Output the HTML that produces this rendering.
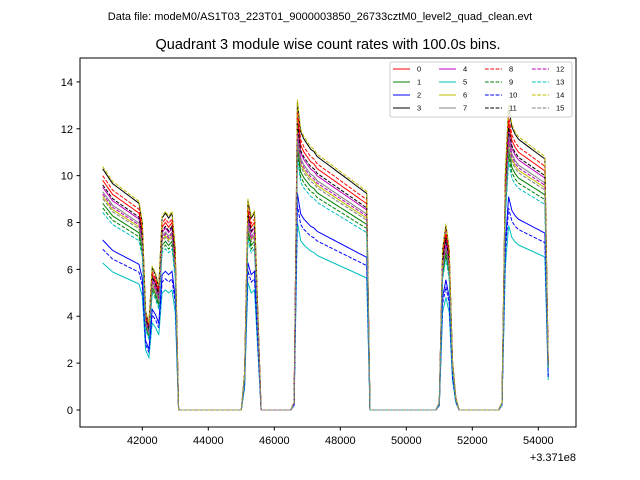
<!DOCTYPE html>
<html><head><meta charset="utf-8"><style>
body{margin:0;background:#fff;}
svg{display:block;font-family:"Liberation Sans","DejaVu Sans",sans-serif;}
</style></head><body>
<svg id="chart" width="640" height="480">
<text x="320" y="20" text-anchor="middle" font-size="11">Data file: modeM0/AS1T03_223T01_9000003850_26733cztM0_level2_quad_clean.evt</text>
<text x="328" y="49" text-anchor="middle" font-size="14.5">Quadrant 3 module wise count rates with 100.0s bins.</text>
<g id="plot"></g>
<g id="axes"></g>
<g id="legend"></g>
</svg>
<script>
const tStart = 40800, tStep = 100;
const baseProfile = [
9.8,9.6,9.4,9.2,9.1,9.0,8.9,8.8,8.7,8.6,8.5,8.4,
7.6,4.0,3.5,5.8,5.5,5.0,7.8,8.0,7.8,8.0,6.5,0,
0,0,0,0,0,0,0,0,0,0,0,0,0,0,0,0,0,0,
0,1.5,8.5,7.8,8.0,4.0,0,
0,0,0,0,0,0,0,0,0,0.3,
12.5,11.3,11.0,10.8,10.6,10.5,10.3,10.2,10.1,10.0,9.9,9.8,9.7,9.6,9.5,9.4,9.3,9.2,9.1,9.0,8.9,8.8,0,
0,0,0,0,0,0,0,0,0,0,0,0,0,0,0,0,0,0,0,0,
0.3,6.5,7.5,6.5,2.0,0.5,0,
0,0,0,0,0,0,0,0,0,0,0,0,
0.3,9.5,12.3,11.5,11.2,11.0,10.9,10.8,10.7,10.6,10.5,10.4,10.3,10.2,2.0
];
const moduleScale = [1.0,0.9,0.74,1.05,0.97,0.64,0.93,0.95,1.02,0.88,0.7,0.98,0.94,0.86,1.06,0.92];
const moduleNames = ["0","1","2","3","4","5","6","7","8","9","10","11","12","13","14","15"];
const colors = ["#ff0000","#008000","#0000ff","#000000","#bf00bf","#00bfbf","#bfbf00","#808080"];
const xTicks = [42000,44000,46000,48000,50000,52000,54000];
const yTicks = [0,2,4,6,8,10,12,14];

const L=80,R=576,T=58,B=427;
const xMin=40112,xMax=55142,yMin=-0.726,yMax=15.02;
const xs=v=>L+(v-xMin)/(xMax-xMin)*(R-L);
const ys=v=>B-(v-yMin)/(yMax-yMin)*(B-T);
const NS="http://www.w3.org/2000/svg";
function mk(tag,attrs,parent){const e=document.createElementNS(NS,tag);for(const k in attrs)e.setAttribute(k,attrs[k]);parent.appendChild(e);return e;}
const plot=document.getElementById('plot'),axes=document.getElementById('axes'),legend=document.getElementById('legend');

moduleScale.forEach((s,m)=>{
  const pts=baseProfile.map((v,i)=>xs(tStart+i*tStep).toFixed(1)+','+ys(v*s).toFixed(1)).join(' ');
  const pl=mk('polyline',{points:pts,fill:'none',stroke:colors[m%8],'stroke-width':1,'stroke-dasharray':m>=8?'3.7,1.6':'none'},plot);
  
  
});

const frame=mk('rect',{x:L,y:T,width:R-L,height:B-T,fill:'none',stroke:'#000','stroke-width':1},axes);


xTicks.forEach(v=>{
  const x=xs(v);
  mk('line',{x1:x,x2:x,y1:B,y2:B+3.5,stroke:'#000'},axes);
  const t=mk('text',{x:x,y:B+17,'text-anchor':'middle','font-size':11},axes);
  t.textContent=v;
  
  
});
yTicks.forEach(v=>{
  const y=ys(v);
  mk('line',{x1:L-3.5,x2:L,y1:y,y2:y,stroke:'#000'},axes);
  const t=mk('text',{x:L-7,y:y+4,'text-anchor':'end','font-size':11},axes);
  t.textContent=v;
  
  
});
const off=mk('text',{x:576,y:461,'text-anchor':'end','font-size':11},axes);
off.textContent='+3.371e8';



const lb=mk('rect',{x:390,y:62,width:182,height:55,fill:'#fff','fill-opacity':0.8,stroke:'#ccc',rx:2},legend);


const colX=[393,439,485,532],rowY=[69,82,95,108];
moduleNames.forEach((n,m)=>{
  const c=Math.floor(m/4),r=m%4;
  const g=mk('g',{},legend);
  
  
  mk('line',{x1:colX[c],x2:colX[c]+17,y1:rowY[r],y2:rowY[r],stroke:colors[m%8],'stroke-width':1,'stroke-dasharray':m>=8?'3.7,1.6':'none'},g);
  const t=mk('text',{x:colX[c]+24,y:rowY[r]+2.5,'font-size':7.5},g);
  t.textContent=n;
});
</script>
</body></html>
